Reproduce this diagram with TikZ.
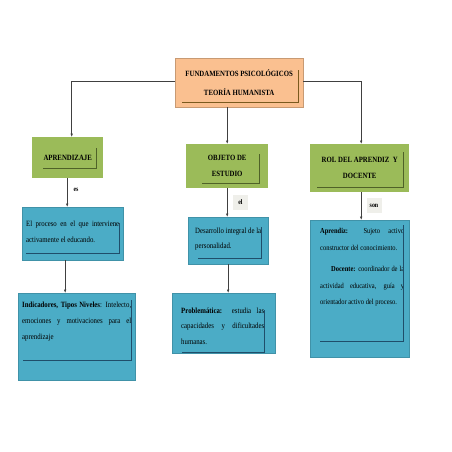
\documentclass[tikz,border=0pt]{standalone}
\usepackage{fontspec}
\setmainfont[FakeStretch=0.85]{Liberation Serif}
\usetikzlibrary{arrows.meta}
\hyphenpenalty=10000
\exhyphenpenalty=10000
\tolerance=10000

\definecolor{naranja}{HTML}{FAC090}
\definecolor{verde}{HTML}{9BBB59}
\definecolor{azul}{HTML}{4BACC6}
\definecolor{cafe}{HTML}{7A5A1E}
\definecolor{verdeosc}{HTML}{4F6228}
\definecolor{azulosc}{HTML}{1F4E6A}
\definecolor{gris}{HTML}{EFEFEA}

\begin{document}
\begin{tikzpicture}[x=1pt,y=-1pt,->,>={Latex[length=3.5pt,width=2.6pt]},
    flecha/.style={draw=black!75,line width=0.6pt},
    tema/.style={anchor=north west,fill=naranja,draw=naranja!80!black,line width=0.3pt,align=center,font=\bfseries\fontsize{8}{19}\selectfont},
    bloque/.style={anchor=north west,fill=verde,align=center,font=\bfseries\fontsize{8}{16}\selectfont},
    detalle/.style={anchor=north west,fill=azul,draw=azul!85!black,line width=0.3pt},
    texto/.style={anchor=north west,inner sep=0pt,align=justify,font=\fontsize{8}{16}\selectfont},
    enlace/.style={fill=gris,inner sep=2pt,minimum width=15pt,minimum height=15pt,font=\bfseries\fontsize{7}{8}\selectfont},
    sombra/.style={-,line width=1.1pt}]
    \useasboundingbox (0,0) rectangle (452,452);

    % cajas de titulo
    \node[tema,minimum width=128pt,minimum height=49pt] (fund) at (175,58) {FUNDAMENTOS PSICOLÓGICOS\\TEORÍA HUMANISTA};
    \node[bloque,minimum width=71pt,minimum height=41pt] (apr) at (32,137) {APRENDIZAJE};
    \node[bloque,minimum width=82pt,minimum height=44pt] (obj) at (186,144) {OBJETO DE\\ESTUDIO};
    \node[bloque,minimum width=99pt,minimum height=48pt] (rol) at (310,144) {ROL DEL APRENDIZ\ \ Y\\DOCENTE};

    % cajas de detalle
    \node[detalle,minimum width=101pt,minimum height=53pt] (proc) at (22,207) {};
    \node[detalle,minimum width=117pt,minimum height=87pt] (indi) at (18,293) {};
    \node[detalle,minimum width=80pt,minimum height=47pt] (desa) at (188,217) {};
    \node[detalle,minimum width=103pt,minimum height=60pt] (prob) at (172,293) {};
    \node[detalle,minimum width=99pt,minimum height=137pt] (apdo) at (310,220) {};

    \node[texto,text width=93pt] (tproc) at (26,220.5) {El proceso en el que interviene\linebreak activamente el educando.};
    \node[texto,text width=109pt] (tindi) at (22,301.5) {\textbf{Indicadores, Tipos Niveles}: Intelecto,\linebreak emociones y motivaciones para el\linebreak aprendizaje};
    \node[texto,text width=66pt,font=\fontsize{8}{15}\selectfont] (tdesa) at (195,227.5) {Desarrollo integral de la\linebreak personalidad.};
    \node[texto,text width=83pt,font=\fontsize{8}{15.5}\selectfont] (tprob) at (181,307.5) {\textbf{Problemática:} estudia las\linebreak capacidades y dificultades\linebreak humanas.};
    \node[texto,text width=84pt,font=\fontsize{7.6}{16.5}\selectfont] (tapdo) at (320,228.5) {\textbf{Aprendiz:} Sujeto activo\linebreak constructor del conocimiento.\par\vspace{5pt}\hspace*{11pt}\textbf{Docente:} coordinador de la\linebreak actividad educativa, guía y\linebreak orientador activo del proceso.};

    % sombras interiores
    \draw[sombra,cafe] ([shift={(-5,12)}]fund.north east) |- ([shift={(7,-5)}]fund.south west);
    \draw[sombra,verdeosc] ([shift={(-7,11)}]apr.north east) |- ([shift={(11,-10)}]apr.south west);
    \draw[sombra,verdeosc] ([shift={(-9,10)}]obj.north east) |- ([shift={(16,-5)}]obj.south west);
    \draw[sombra,verdeosc] ([shift={(-6,8)}]rol.north east) |- ([shift={(7,-5)}]rol.south west);
    \draw[sombra,azulosc] ([shift={(-4,16)}]proc.north east) |- ([shift={(4,-7)}]proc.south west);
    \draw[sombra,azulosc] ([shift={(-4,7)}]indi.north east) |- ([shift={(5,-20)}]indi.south west);
    \draw[sombra,azulosc] ([shift={(-7,10)}]desa.north east) |- ([shift={(10,-6)}]desa.south west);
    \draw[sombra,azulosc] ([shift={(-11,17)}]prob.north east) |- ([shift={(10,-1)}]prob.south west);
    \draw[sombra,azulosc] ([shift={(-6,5)}]apdo.north east) |- ([shift={(10,-16)}]apdo.south west);

    % etiquetas
    \node[font=\bfseries\fontsize{7}{8}\selectfont] (es) at (76,190) {es};
    \node[enlace] (el) at (240.5,202.5) {el};
    \node[enlace] (son) at (374,205.5) {son};

    % conectores
    \draw[flecha] (fund.west |- 0,81) -| ([xshift=4pt]apr.north);
    \draw[flecha] (fund.east |- 0,81) -| ([xshift=1.5pt]rol.north);
    \draw[flecha] (obj.north |- fund.south) -- (obj.north);
    \draw[flecha] ([xshift=-0.5pt]apr.south) -- ([xshift=-0.5pt]apr.south |- proc.north);
    \draw[flecha] ([xshift=-7.5pt]proc.south) -- ([xshift=-7.5pt]proc.south |- indi.north);
    \draw[flecha] (obj.south) -- (obj.south |- desa.north);
    \draw[flecha] (desa.south) -- (desa.south |- prob.north);
    \draw[flecha] ([xshift=1.5pt]rol.south) -- ([xshift=1.5pt]rol.south |- apdo.north);
\end{tikzpicture}
\end{document}
